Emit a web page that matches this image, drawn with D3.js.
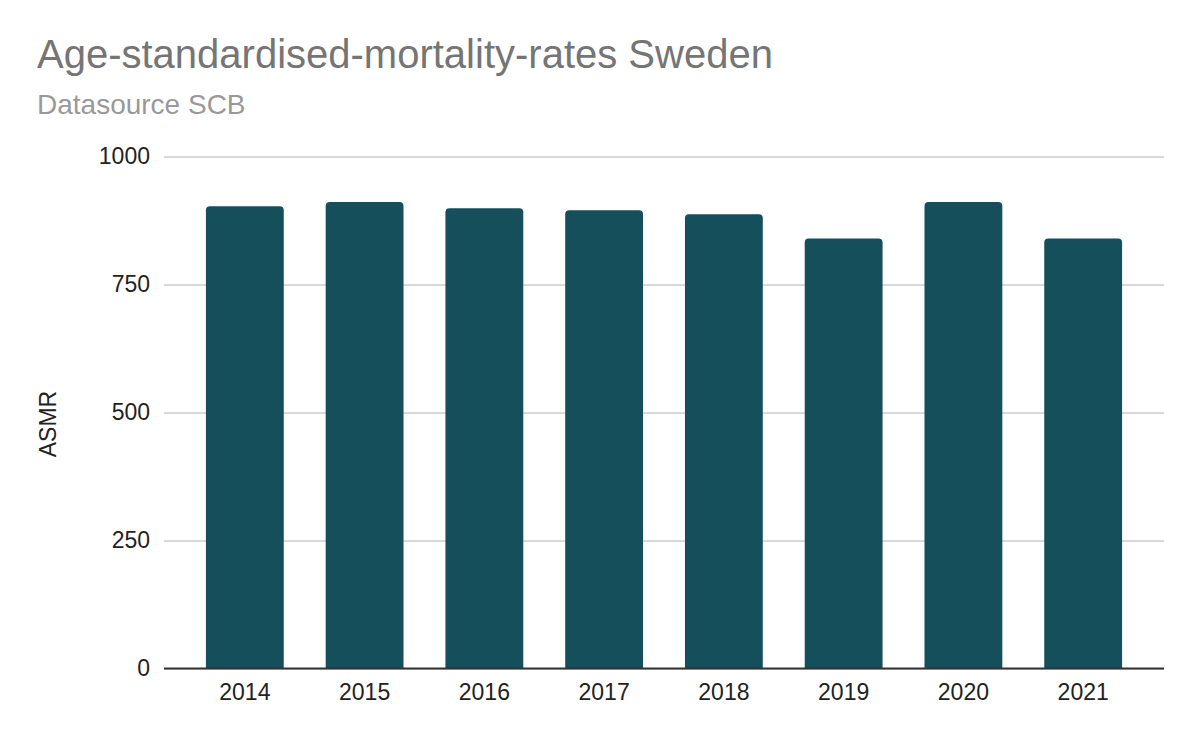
<!DOCTYPE html>
<html>
<head>
<meta charset="utf-8">
<script src="https://cdn.jsdelivr.net/npm/d3@7"></script>
<style>
  body { margin: 0; background: #fff; }
  svg { display: block; }
</style>
</head>
<body>
<svg id="chart"></svg>
<script>
const years = ["2014", "2015", "2016", "2017", "2018", "2019", "2020", "2021"];
const asmr = [903, 911, 899, 895, 887, 840, 911, 840];
const yTicks = [0, 250, 500, 750, 1000];

const width = 1200, height = 742;
const font = "'Liberation Sans', Arial, sans-serif";
const barColor = "#164f5c";
const axisFont = 23;

const svg = d3.select("#chart")
    .attr("width", width)
    .attr("height", height);

svg.append("rect")
    .attr("width", width)
    .attr("height", height)
    .attr("fill", "#fff");

// plot area
const plot = { left: 164, right: 1164, top: 156.5, bottom: 668.5 };

const x = d3.scaleBand()
    .domain(years)
    .range([plot.left, plot.right])
    .paddingInner(0.35)
    .paddingOuter(0.35);

const y = d3.scaleLinear()
    .domain([0, 1000])
    .range([plot.bottom, plot.top]);

// Title
svg.append("text")
    .attr("x", 37)
    .attr("y", 68)
    .attr("fill", "#757575")
    .attr("font-family", font)
    .attr("font-size", 40)
    .text("Age-standardised-mortality-rates Sweden");

svg.append("text")
    .attr("x", 37)
    .attr("y", 114)
    .attr("fill", "#999999")
    .attr("font-family", font)
    .attr("font-size", 28)
    .text("Datasource SCB");

// gridlines + y labels
const yAxis = svg.append("g")
    .attr("transform", `translate(${plot.left},0)`)
    .call(d3.axisLeft(y).tickValues(yTicks).tickSize(-(plot.right - plot.left)).tickPadding(14).tickFormat(d3.format("d")));
yAxis.select(".domain").remove();
yAxis.selectAll(".tick line")
    .attr("stroke", "#cccccc")
    .attr("stroke-width", 1.5);
yAxis.selectAll(".tick text")
    .attr("fill", "#222")
    .attr("font-family", font)
    .attr("font-size", axisFont);

// Bars with rounded top corners
const r = 4;
svg.append("g")
    .selectAll("path")
    .data(years.map((d, i) => ({ year: d, value: asmr[i] })))
    .join("path")
    .attr("fill", barColor)
    .attr("d", d => {
        const x0 = x(d.year), x1 = x0 + x.bandwidth();
        const y0 = y(d.value), y1 = y(0);
        return `M${x0},${y1} V${y0 + r} Q${x0},${y0} ${x0 + r},${y0} H${x1 - r} Q${x1},${y0} ${x1},${y0 + r} V${y1} Z`;
    });

// x axis baseline
svg.append("line")
    .attr("x1", plot.left)
    .attr("x2", plot.right)
    .attr("y1", y(0))
    .attr("y2", y(0))
    .attr("stroke", "#333")
    .attr("stroke-width", 2);

// x labels
const xAxis = svg.append("g")
    .attr("transform", `translate(0,${plot.bottom})`)
    .call(d3.axisBottom(x).tickSize(0).tickPadding(15));
xAxis.select(".domain").remove();
xAxis.selectAll(".tick text")
    .attr("fill", "#222")
    .attr("font-family", font)
    .attr("font-size", axisFont);

// Y axis title
svg.append("text")
    .attr("transform", `translate(56,424) rotate(-90)`)
    .attr("text-anchor", "middle")
    .attr("fill", "#222")
    .attr("font-family", font)
    .attr("font-size", axisFont)
    .text("ASMR");
</script>
</body>
</html>
